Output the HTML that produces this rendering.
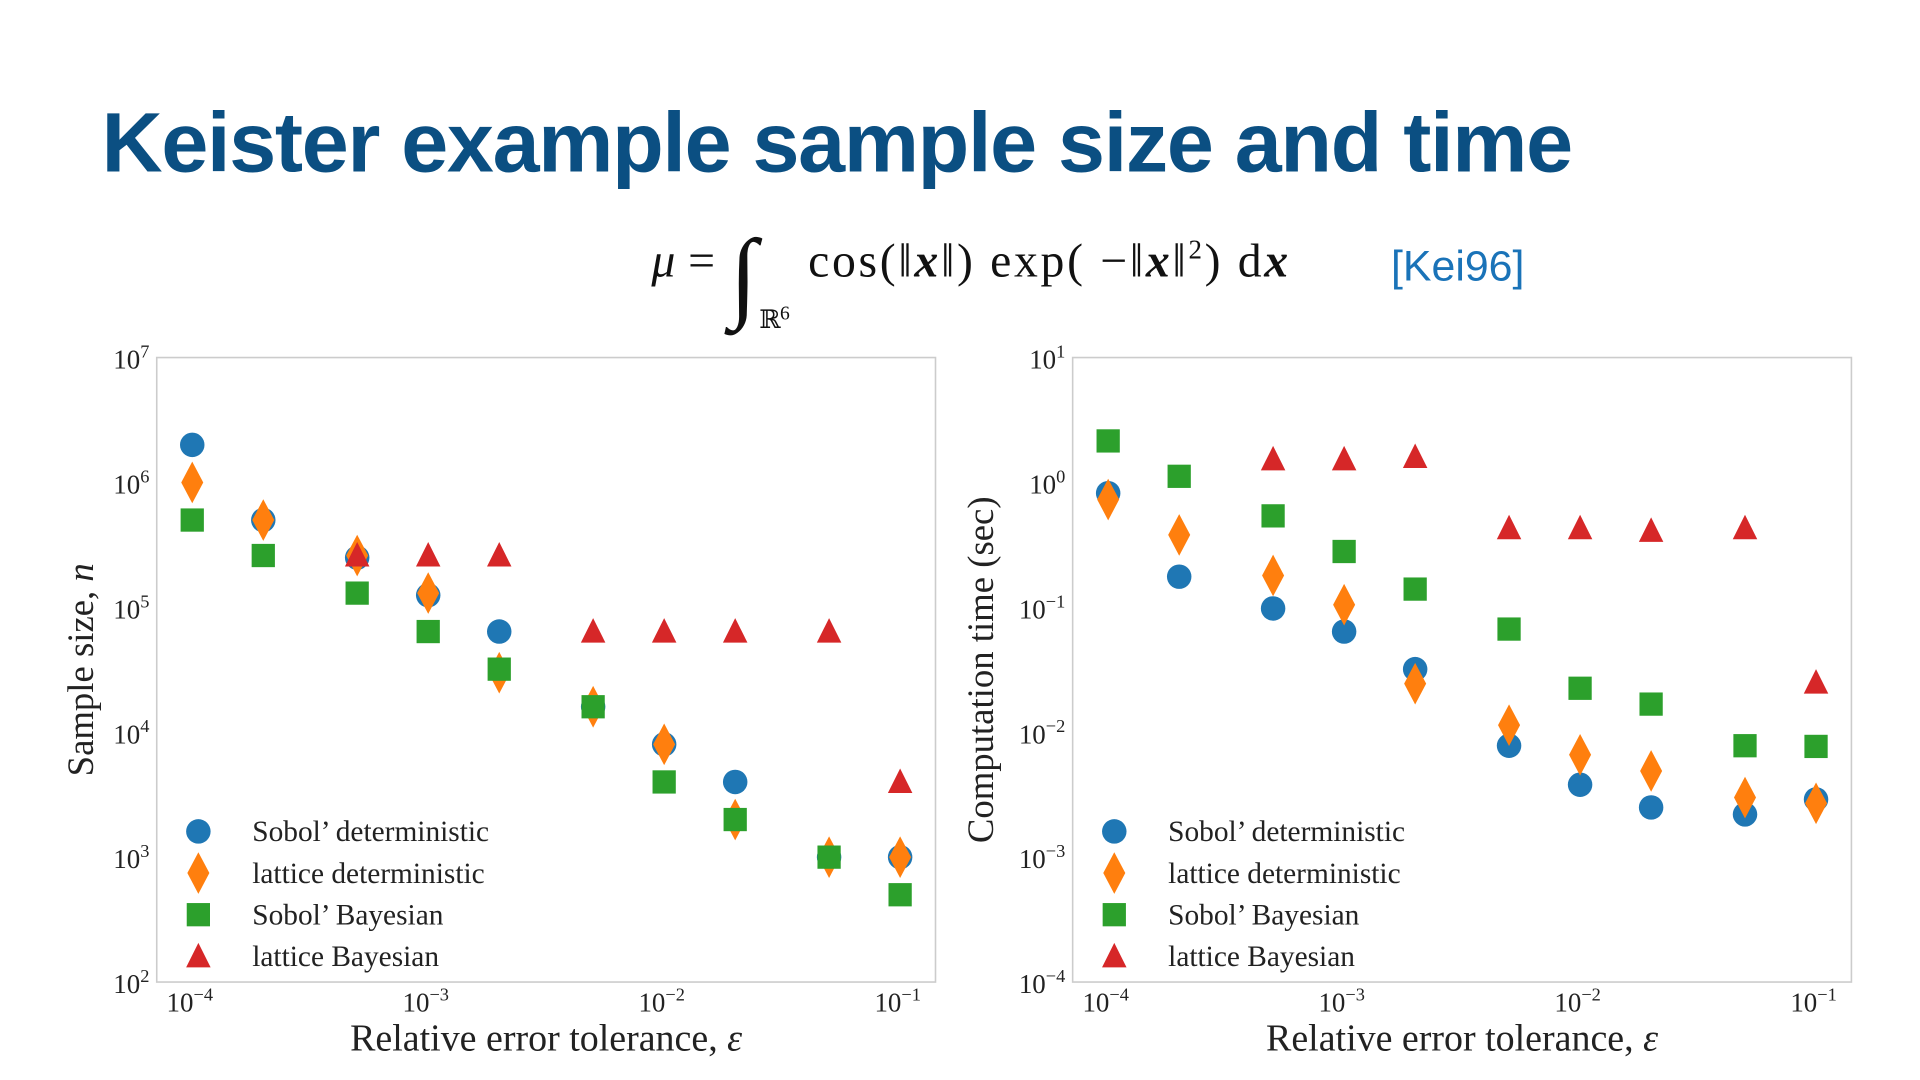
<!DOCTYPE html>
<html><head><meta charset="utf-8">
<style>
html,body{margin:0;padding:0;background:#fff;width:1920px;height:1080px;overflow:hidden}
svg{display:block}
.serif{font-family:"Liberation Serif","DejaVu Serif",serif}
</style></head>
<body>
<svg id="root" width="1920" height="1080" viewBox="0 0 1568 882" xmlns="http://www.w3.org/2000/svg">
<text x="83" y="140" font-family="Liberation Sans, sans-serif" font-weight="bold" font-size="69" fill="#0b4f82" letter-spacing="-1.05">Keister example sample size and time</text>
<g class="serif" font-size="39" fill="#111">
  <text x="532" y="226" font-style="italic">μ</text>
  <text x="562" y="226">=</text>
  <text x="596" y="252" font-size="82">∫</text>
  <text x="620" y="268" font-size="21">ℝ</text><text x="637" y="261" font-size="16">6</text>
  <text x="660" y="226" textLength="392" lengthAdjust="spacing">cos(‖<tspan font-style="italic" font-weight="bold">x</tspan>‖) exp( −‖<tspan font-style="italic" font-weight="bold">x</tspan>‖<tspan font-size="22" dy="-15">2</tspan><tspan dy="15">) d</tspan><tspan font-style="italic" font-weight="bold">x</tspan></text>
</g>
<text x="1136" y="229" font-family="Liberation Sans, sans-serif" font-size="35" fill="#1a73b8">[Kei96]</text>
<g id="charts"></g>
</svg>
<script>
const eps = [1e-4, 2e-4, 5e-4, 1e-3, 2e-3, 5e-3, 1e-2, 2e-2, 5e-2, 1e-1];
// left: sample size
const nSobolDet = [2e6, 5e5, 2.5e5, 1.25e5, 6.4e4, 1.6e4, 8e3, 4e3, 1e3, 1e3];
const nLatticeDet = [1e6, 5e5, 2.6e5, 1.3e5, 3e4, 1.6e4, 8e3, 2e3, 1e3, 1e3];
const nSobolBayes = [5e5, 2.6e5, 1.3e5, 6.4e4, 3.2e4, 1.6e4, 4e3, 2e3, 1e3, 5e2];
const nLatticeBayes = [null, null, 2.6e5, 2.6e5, 2.6e5, 6.4e4, 6.4e4, 6.4e4, 6.4e4, 4e3];
// right: time
const tSobolDet = [0.82, 0.176, 0.098, 0.064, 0.032, 0.0078, 0.0038, 0.0025, 0.0022, 0.0029];
const tLatticeDet = [0.73, 0.38, 0.18, 0.105, 0.0245, 0.0114, 0.0066, 0.0049, 0.003, 0.0027];
const tSobolBayes = [2.15, 1.12, 0.54, 0.28, 0.14, 0.067, 0.0225, 0.0168, 0.0078, 0.0077];
const tLatticeBayes = [null, null, 1.53, 1.53, 1.6, 0.43, 0.43, 0.41, 0.43, 0.025];
const xTickExp = [-4, -3, -2, -1];
const yTickExpLeft = [2, 3, 4, 5, 6, 7];
const yTickExpRight = [-4, -3, -2, -1, 0, 1];
const legendLabels = ["Sobol’ deterministic", "lattice deterministic", "Sobol’ Bayesian", "lattice Bayesian"];

const NS = "http://www.w3.org/2000/svg";
const root = document.getElementById("charts");
function mk(tag, attrs, parent) {
  const e = document.createElementNS(NS, tag);
  for (const k in attrs) e.setAttribute(k, attrs[k]);
  parent.appendChild(e);
  return e;
}
const colors = ["#1f77b4", "#ff7f0e", "#2ca02c", "#d62728"];
function marker(kind, cx, cy, parent) {
  let e;
  if (kind === 0) e = mk("circle", {cx, cy, r: 10, fill: colors[0]}, parent);
  else if (kind === 1) e = mk("polygon", {points: `${cx},${cy-17} ${cx+9},${cy} ${cx},${cy+17} ${cx-9},${cy}`, fill: colors[1]}, parent);
  else if (kind === 2) e = mk("rect", {x: cx-9.5, y: cy-9.5, width: 19, height: 19, fill: colors[2]}, parent);
  else e = mk("polygon", {points: `${cx},${cy-11} ${cx+10},${cy+9} ${cx-10},${cy+9}`, fill: colors[3]}, parent);
  return e;
}
function chart(cfg) {
  const g = mk("g", {}, root);
  
  
  const L = cfg.x0, R = L + 636, T = 292, B = 802;
  const xs = v => (L + 29) + (Math.log10(v) + 4) * 192.7;
  const ys = v => T + (cfg.yMax - Math.log10(v)) * 102;
  const box = mk("rect", {x: L, y: T, width: 636, height: 510, fill: "none", stroke: "#cccccc", "stroke-width": 1.3}, g);
  
  
  xTickExp.forEach(e => {
    const t = mk("text", {x: xs(Math.pow(10, e)) - 2, y: 826, "text-anchor": "middle", "font-size": 22, fill: "#222", class: "serif"}, g);
    
    
    t.innerHTML = `10<tspan font-size="15" dy="-9">−${-e}</tspan>`;
  });
  cfg.yTicks.forEach(e => {
    const t = mk("text", {x: L - 6, y: ys(Math.pow(10, e)) + 9, "text-anchor": "end", "font-size": 22, fill: "#222", class: "serif"}, g);
    
    
    t.innerHTML = `10<tspan font-size="15" dy="-9">${e < 0 ? "−" + (-e) : e}</tspan><tspan dx="12"> </tspan>`;
  });
  const xl = mk("text", {x: L + 318, y: 858, "text-anchor": "middle", "font-size": 31, fill: "#222", class: "serif"}, g);
  
  
  xl.innerHTML = 'Relative error tolerance, <tspan font-style="italic">ε</tspan>';
  const yl = mk("text", {x: 0, y: 0, "text-anchor": "middle", "font-size": 30, fill: "#222", class: "serif", transform: `translate(${cfg.yTitleX},547) rotate(-90)`}, g);
  
  
  yl.innerHTML = cfg.yTitle;
  cfg.series.forEach((s, k) => {
    s.forEach((v, i) => {
      if (v == null) return;
      const m = marker(k, xs(eps[i]), ys(v), g);
      
      
    });
  });
  legendLabels.forEach((lab, k) => {
    const yy = 679 + k * 34;
    const m = marker(k, L + 34, yy, g);
    
    
    const t = mk("text", {x: L + 78, y: yy + 8, "font-size": 24, fill: "#222", class: "serif"}, g);
    
    
    t.textContent = lab;
  });
}
chart({name: "sample-size-chart", x0: 128, yMax: 7, yTicks: yTickExpLeft, yTitleX: 76,
  yTitle: 'Sample size, <tspan font-style="italic">n</tspan>',
  series: [nSobolDet, nLatticeDet, nSobolBayes, nLatticeBayes]});
chart({name: "computation-time-chart", x0: 876, yMax: 1, yTicks: yTickExpRight, yTitleX: 811,
  yTitle: 'Computation time (sec)',
  series: [tSobolDet, tLatticeDet, tSobolBayes, tLatticeBayes]});
</script>
</body></html>
